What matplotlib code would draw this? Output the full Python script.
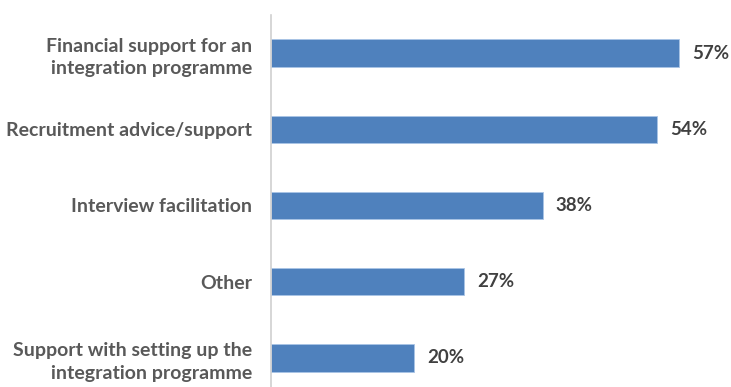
import matplotlib.pyplot as plt

# survey responses
categories = ['Financial support for an\nintegration programme',
              'Recruitment advice/support',
              'Interview facilitation',
              'Other',
              'Support with setting up the\nintegration programme']
values = [57, 54, 38, 27, 20]
value_labels = ['57%', '54%', '38%', '27%', '20%']

plt.rcParams['font.family'] = ['Lato', 'DejaVu Sans']

fig = plt.figure(figsize=(7.31, 3.87), dpi=100, facecolor='white')
ax = fig.add_axes([271/731, -9/387, 458/731, 381/387])

pos = list(range(len(categories)))
ax.barh(pos, values, height=0.36, color='#4F81BD', edgecolor='#A9C4E6', linewidth=0.6)
ax.set_ylim(len(categories) - 0.5, -0.5)
ax.set_xlim(0, 64)

for p, v, lab in zip(pos, values, value_labels):
    ax.text(v + 1.8, p, lab, va='center', ha='left', fontsize=13.5,
            fontweight='bold', color='#404040')

ax.set_yticks(pos)
ax.set_yticklabels(categories, fontsize=14, fontweight='bold', color='#595959',
                   linespacing=1.4)
ax.tick_params(axis='y', length=0, pad=13.5)
ax.set_xticks([])
for s in ['top', 'right', 'bottom']:
    ax.spines[s].set_visible(False)
ax.spines['left'].set_color('#D0D0D0')
ax.spines['left'].set_linewidth(1.2)

fig.savefig('out.png', dpi=100)
